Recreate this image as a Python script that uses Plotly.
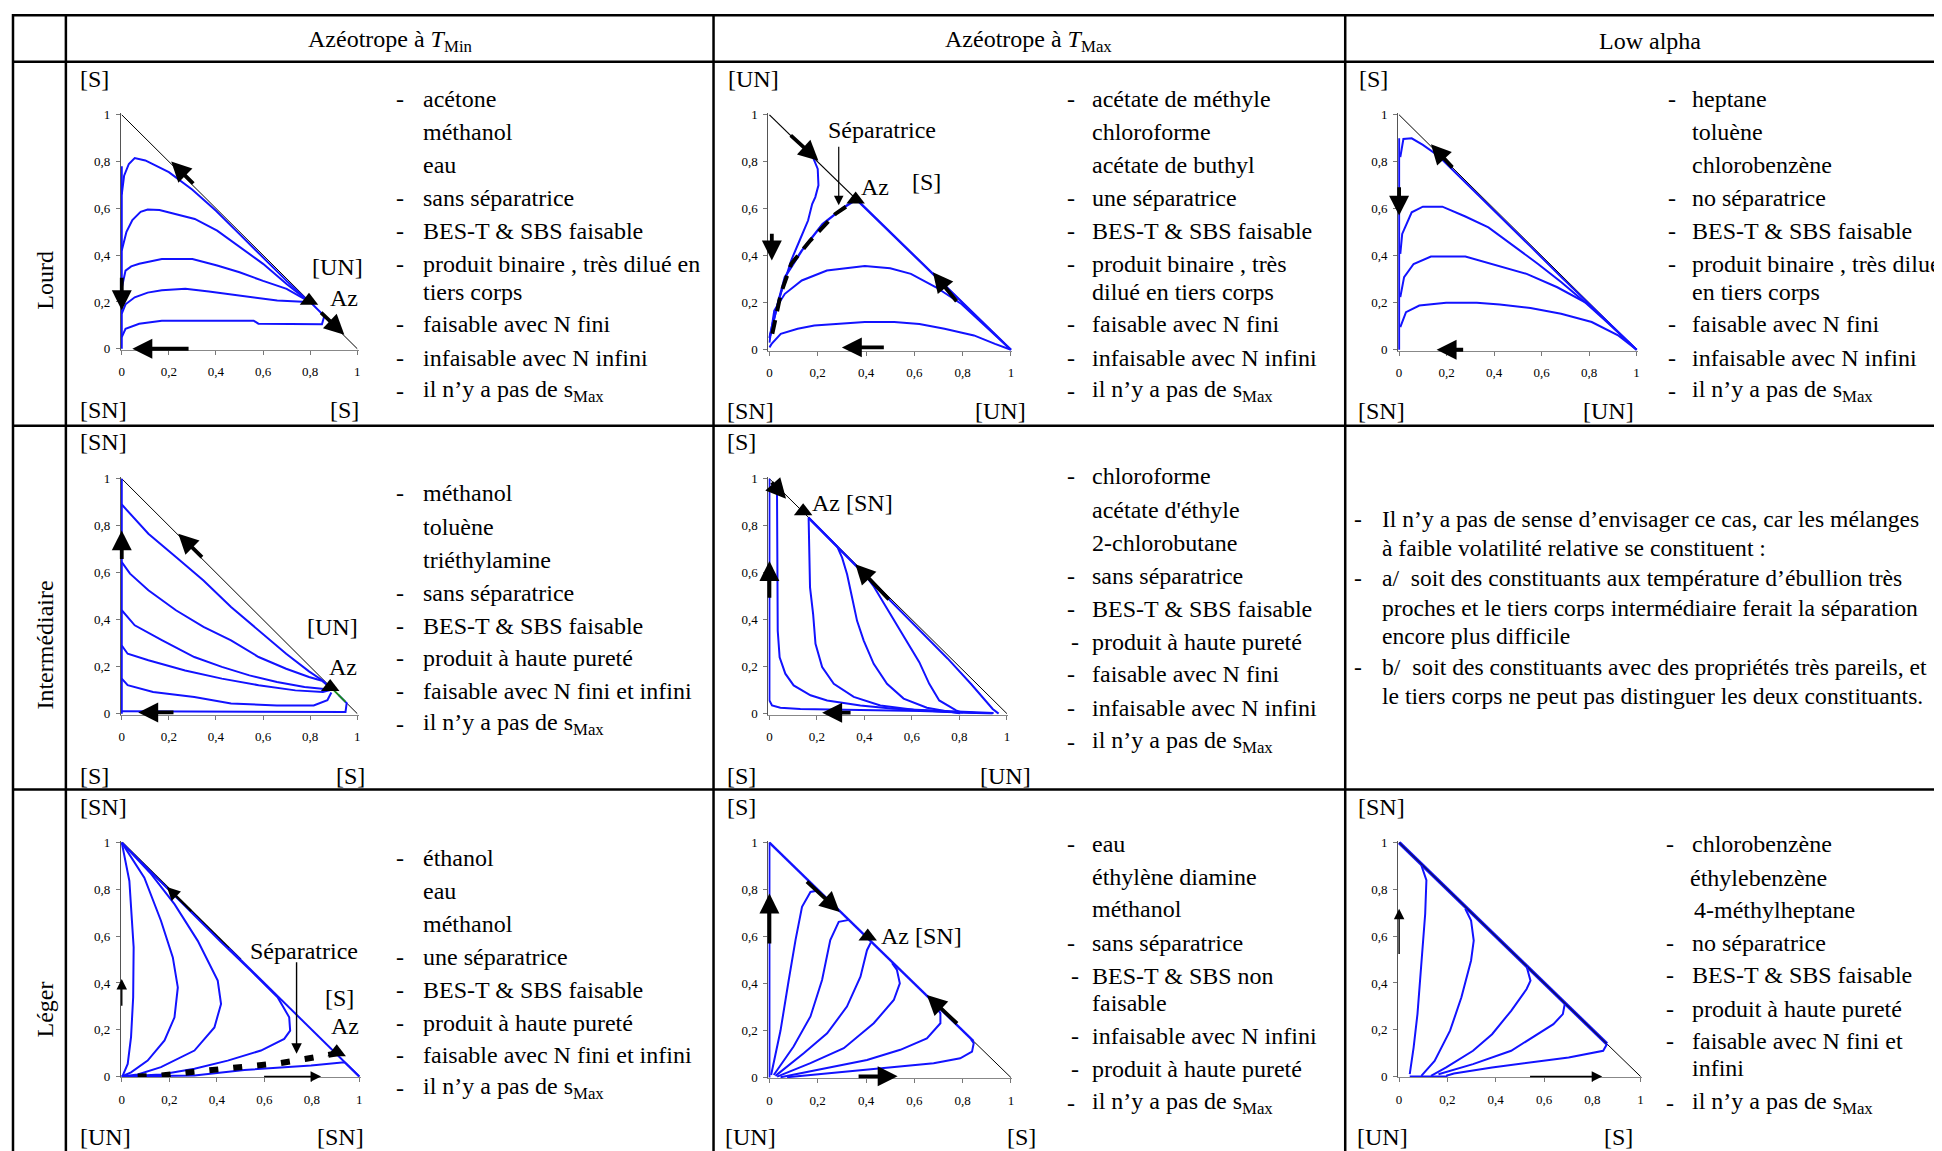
import plotly.graph_objects as go

W, H = 1942, 1151          # browser window
OX = 8                     # default page margin left of the figure
FW, FH = W - 2 * OX, H
VS, VOFF = 0.989, 13.3     # measured vertical placement of the page in the photograph
FONT = "Liberation Serif"
BLUE = "#1212ff"

# ======================= DATA =======================
column_titles = ["Azéotrope à <i>T</i><sub>Min</sub>",
                 "Azéotrope à <i>T</i><sub>Max</sub>",
                 "Low alpha"]
row_titles = ["Lourd", "Intermédiaire", "Léger"]
tick_vals = [0, 0.2, 0.4, 0.6, 0.8, 1.0]
tick_text = ["0", "0,2", "0,4", "0,6", "0,8", "1"]

# ---- Lourd / Azéotrope à T_Min ----
lmin_curve1 = [(0, 0.66), (0.01, 0.74), (0.03, 0.79), (0.055, 0.815), (0.1, 0.805), (0.2, 0.755),
               (0.3, 0.68), (0.4, 0.59), (0.5, 0.49), (0.6, 0.39), (0.7, 0.29), (0.79, 0.205)]
lmin_curve2 = [(0, 0.42), (0.02, 0.5), (0.045, 0.55), (0.08, 0.585), (0.11, 0.595), (0.16, 0.593),
               (0.21, 0.58), (0.31, 0.555), (0.405, 0.505), (0.5, 0.434), (0.6, 0.363), (0.7, 0.277),
               (0.79, 0.205)]
lmin_curve3 = [(0, 0.26), (0.016, 0.334), (0.04, 0.352), (0.074, 0.363), (0.17, 0.384), (0.3, 0.384),
               (0.405, 0.356), (0.5, 0.327), (0.6, 0.29), (0.7, 0.256), (0.79, 0.205)]
lmin_curve4 = [(0, 0.15), (0.016, 0.19), (0.055, 0.22), (0.11, 0.24), (0.17, 0.25), (0.27, 0.256),
               (0.37, 0.245), (0.5, 0.228), (0.66, 0.206), (0.79, 0.2)]
lmin_curve5 = [(0, 0.05), (0.016, 0.085), (0.074, 0.107), (0.17, 0.12), (0.56, 0.12), (0.58, 0.107),
               (0.85, 0.105), (0.86, 0.14), (0.8, 0.2)]
lmin_axis = [(0, 0), (0, 0.78)]
lmin_az = [(0.795, 0.205)]
lmin_arrows = [(0.31, 0.70, 0.21, 0.80), (0.84, 0.16, 0.945, 0.06), (0, 0.31, 0, 0.165), (0.29, 0, 0.045, 0)]

# ---- Lourd / Azéotrope à T_Max ----
lmax_curve1 = [(0.18, 0.82), (0.2, 0.77), (0.203, 0.70), (0.19, 0.65), (0.177, 0.62), (0.16, 0.55),
               (0.125, 0.465), (0.09, 0.38), (0.064, 0.295), (0.038, 0.21), (0.012, 0.096), (0, 0.05)]
lmax_curve2 = [(0, 0.05), (0.02, 0.139), (0.064, 0.309), (0.134, 0.422), (0.22, 0.535), (0.308, 0.606),
               (0.36, 0.64), (1, 0)]
lmax_separatrix = [(0.012, 0.068), (0.047, 0.238), (0.09, 0.365), (0.169, 0.465), (0.273, 0.578),
                   (0.343, 0.627)]
lmax_curve3 = [(0, 0.03), (0.02, 0.167), (0.064, 0.238), (0.134, 0.295), (0.238, 0.337), (0.395, 0.356),
               (0.5, 0.347), (0.586, 0.323), (0.69, 0.266), (0.795, 0.195), (0.934, 0.063), (1, 0)]
lmax_curve4 = [(0, 0.01), (0.009, 0.025), (0.047, 0.068), (0.117, 0.089), (0.186, 0.103), (0.308, 0.113),
               (0.395, 0.118), (0.517, 0.118), (0.621, 0.11), (0.725, 0.089), (0.847, 0.061),
               (0.934, 0.025), (1, 0)]
lmax_az = [(0.357, 0.64)]
lmax_arrows = [(0.082, 0.918, 0.203, 0.805), (0.01, 0.5, 0.01, 0.38), (0.78, 0.2, 0.677, 0.33),
               (0.48, 0.01, 0.3, 0.01)]
lmax_pointers = [(0.287, 0.87, 0.287, 0.615)]

# ---- Lourd / Low alpha ----
lalpha_curve1 = [(0.005, 0.82), (0.018, 0.897), (0.053, 0.90), (0.10, 0.872), (0.166, 0.825),
                 (0.247, 0.745), (0.327, 0.665), (0.424, 0.568), (0.553, 0.44), (0.682, 0.31),
                 (0.795, 0.2), (0.908, 0.088), (1, 0)]
lalpha_curve2 = [(0.005, 0.408), (0.013, 0.493), (0.053, 0.585), (0.10, 0.609), (0.182, 0.609),
                 (0.279, 0.567), (0.376, 0.521), (0.473, 0.45), (0.585, 0.365), (0.682, 0.288),
                 (0.779, 0.205), (0.876, 0.117), (1, 0)]
lalpha_curve3 = [(0.005, 0.224), (0.021, 0.309), (0.061, 0.365), (0.134, 0.397), (0.279, 0.397),
                 (0.392, 0.365), (0.537, 0.323), (0.666, 0.266), (0.795, 0.195), (0.908, 0.09), (1, 0)]
lalpha_curve4 = [(0.005, 0.096), (0.029, 0.16), (0.085, 0.188), (0.198, 0.2), (0.327, 0.2),
                 (0.424, 0.193), (0.553, 0.178), (0.682, 0.153), (0.811, 0.118), (0.924, 0.06), (1, 0)]
lalpha_axis = [(0, 0), (0, 0.9)]
lalpha_arrows = [(0.23, 0.77, 0.134, 0.875), (0, 0.698, 0, 0.571), (0.276, 0, 0.158, 0)]

# ---- Intermédiaire / Azéotrope à T_Min ----
imin_curve1 = [(0, 0.89), (0.035, 0.851), (0.113, 0.766), (0.23, 0.667), (0.347, 0.567), (0.464, 0.454),
               (0.581, 0.355), (0.698, 0.255), (0.795, 0.18), (0.854, 0.14), (0.88, 0.115)]
imin_curve2 = [(0, 0.645), (0.035, 0.596), (0.113, 0.525), (0.23, 0.44), (0.347, 0.369), (0.464, 0.312),
               (0.581, 0.241), (0.698, 0.191), (0.795, 0.156), (0.85, 0.14), (0.88, 0.115)]
imin_curve3 = [(0, 0.44), (0.055, 0.376), (0.172, 0.312), (0.308, 0.241), (0.425, 0.199), (0.542, 0.163),
               (0.659, 0.135), (0.776, 0.113), (0.86, 0.105), (0.88, 0.11)]
imin_curve4 = [(0, 0.29), (0.025, 0.255), (0.113, 0.227), (0.269, 0.184), (0.425, 0.149), (0.581, 0.121),
               (0.737, 0.099), (0.854, 0.092), (0.885, 0.1)]
imin_curve5 = [(0, 0.149), (0.025, 0.121), (0.133, 0.092), (0.308, 0.071), (0.464, 0.043), (0.659, 0.035),
               (0.815, 0.035), (0.873, 0.057), (0.89, 0.09)]
imin_curve6 = [(0, 0.01), (0.3, 0.01), (0.5, 0.008), (0.7, 0.008), (0.95, 0.007), (0.955, 0.045),
               (0.92, 0.08)]
imin_axis = [(0, 0), (0, 1)]
imin_green = [(0.9, 0.1), (0.95, 0.05)]
imin_az = [(0.885, 0.113)]
imin_arrows = [(0.347, 0.66, 0.24, 0.766), (0, 0.652, 0, 0.78), (0.226, 0.005, 0.07, 0.005)]

# ---- Intermédiaire / Azéotrope à T_Max ----
imax_curve1 = [(0, 1), (0, 0.056), (0.011, 0.035), (0.046, 0.025), (0.13, 0.02), (0.38, 0.017),
               (0.635, 0.011), (0.8, 0.006), (0.94, 0.0)]
imax_curve2 = [(0.04, 0.955), (0.032, 0.93), (0.035, 0.353), (0.043, 0.24), (0.067, 0.17), (0.102, 0.12),
               (0.173, 0.078), (0.243, 0.056), (0.383, 0.035), (0.523, 0.021), (0.663, 0.014),
               (0.832, 0.007), (0.944, 0.003)]
imax_curve3 = [(0.165, 0.835), (0.171, 0.537), (0.184, 0.424), (0.194, 0.297), (0.222, 0.198),
               (0.271, 0.127), (0.355, 0.071), (0.467, 0.035), (0.607, 0.017), (0.748, 0.007),
               (0.874, 0.003)]
imax_curve4 = [(0.165, 0.835), (0.285, 0.712), (0.306, 0.664), (0.327, 0.593), (0.348, 0.494),
               (0.369, 0.395), (0.397, 0.311), (0.439, 0.212), (0.495, 0.127), (0.565, 0.064),
               (0.663, 0.025), (0.748, 0.008), (0.804, 0)]
imax_curve5 = [(0.165, 0.833), (0.40, 0.595), (0.44, 0.54), (0.505, 0.431), (0.561, 0.332),
               (0.631, 0.219), (0.673, 0.127), (0.715, 0.056), (0.786, 0.014), (0.814, 0.003)]
imax_curve6 = [(0.165, 0.833), (0.5, 0.492), (0.65, 0.337), (0.75, 0.235), (0.85, 0.125), (0.9, 0.065),
               (0.94, 0.02), (0.965, 0.0)]
imax_az = [(0.142, 0.862)]
imax_arrows = [(0.004, 0.99, 0.07, 0.915), (0.509, 0.48, 0.362, 0.636), (0, 0.487, 0, 0.65),
               (0.348, 0.004, 0.222, 0.004)]

# ---- Léger / Azéotrope à T_Min ----
gmin_curve1 = [(0, 1), (0.032, 0.836), (0.05, 0.552), (0.048, 0.339), (0.039, 0.168), (0.025, 0.054),
               (0.004, 0.004)]
gmin_curve2 = [(0, 1), (0.095, 0.85), (0.165, 0.666), (0.215, 0.509), (0.236, 0.381), (0.222, 0.253),
               (0.18, 0.154), (0.109, 0.068), (0.039, 0.018), (0, 0)]
gmin_curve3 = [(0, 1), (0.12, 0.87), (0.222, 0.737), (0.32, 0.58), (0.404, 0.41), (0.418, 0.31),
               (0.39, 0.21), (0.306, 0.111), (0.165, 0.04), (0.067, 0.009), (0, 0)]
gmin_curve4 = [(0, 1), (0.2, 0.795), (0.418, 0.575), (0.544, 0.452), (0.656, 0.339), (0.705, 0.253),
               (0.709, 0.196), (0.684, 0.161), (0.586, 0.111), (0.446, 0.068), (0.306, 0.033),
               (0.165, 0.009), (0, 0)]
gmin_curve5 = [(0, 0), (0.15, 0.002), (0.306, 0.004), (0.516, 0.028), (0.656, 0.037), (0.797, 0.047),
               (0.937, 0.061), (0.945, 0.055), (1, 0)]
gmin_diag_blue = [(0.45, 0.55), (1, 0)]
gmin_diag_black = [(0, 1), (0.5, 0.5)]
gmin_separatrix = [(0.067, 0), (0.165, 0.004), (0.266, 0.016), (0.369, 0.026), (0.471, 0.033),
                   (0.572, 0.047), (0.67, 0.058), (0.771, 0.075), (0.874, 0.094), (0.91, 0.1)]
gmin_az = [(0.905, 0.104)]
gmin_arrows = [(0.3, 0.7, 0.19, 0.81)]
gmin_thin_arrows = [(0, 0.296, 0, 0.417), (0.593, 0, 0.839, 0), (0.736, 0.495, 0.736, 0.097)]

# ---- Léger / Azéotrope à T_Max ----
gmax_curve1 = [(0.007, 0.011), (0.046, 0.2), (0.08, 0.415), (0.108, 0.585), (0.135, 0.727), (0.17, 0.79),
               (0.195, 0.795)]
gmax_curve2 = [(0.018, 0.011), (0.1, 0.132), (0.17, 0.26), (0.218, 0.415), (0.252, 0.585), (0.287, 0.663),
               (0.325, 0.67)]
gmax_curve3 = [(0.025, 0.007), (0.142, 0.103), (0.239, 0.188), (0.321, 0.302), (0.377, 0.429),
               (0.404, 0.542), (0.42, 0.575)]
gmax_curve4 = [(0.032, 0.004), (0.17, 0.061), (0.308, 0.125), (0.432, 0.231), (0.515, 0.33), (0.54, 0.401),
               (0.528, 0.458), (0.508, 0.487)]
gmax_curve5 = [(0.046, 0.001), (0.239, 0.04), (0.404, 0.075), (0.542, 0.118), (0.652, 0.167),
               (0.708, 0.231), (0.708, 0.273), (0.69, 0.305)]
gmax_curve6 = [(0.073, 0.001), (0.308, 0.025), (0.515, 0.044), (0.68, 0.061), (0.79, 0.082), (0.839, 0.11),
               (0.846, 0.146), (0.835, 0.162)]
gmax_axis = [(0, 0), (0, 1)]
gmax_diag_blue = [(0, 1), (0.845, 0.155)]
gmax_az = [(0.407, 0.6)]
gmax_arrows = [(0.149, 0.84, 0.291, 0.705), (0.783, 0.224, 0.652, 0.351), (0, 0.564, 0, 0.783),
               (0.363, 0.005, 0.531, 0.005)]

# ---- Léger / Low alpha ----
galpha_curve1 = [(0.092, 0.903), (0.113, 0.839), (0.108, 0.696), (0.092, 0.481), (0.076, 0.267),
                 (0.06, 0.124), (0.044, 0.01)]
galpha_curve2 = [(0.274, 0.717), (0.298, 0.667), (0.309, 0.581), (0.298, 0.496), (0.258, 0.339),
                 (0.211, 0.196), (0.147, 0.067), (0.092, 0.003)]
galpha_curve3 = [(0.528, 0.47), (0.544, 0.41), (0.528, 0.374), (0.464, 0.281), (0.385, 0.181),
                 (0.306, 0.11), (0.195, 0.039), (0.132, 0.003)]
galpha_curve4 = [(0.686, 0.31), (0.678, 0.267), (0.639, 0.224), (0.575, 0.181), (0.464, 0.11),
                 (0.306, 0.053), (0.163, 0.01)]
galpha_curve5 = [(0.861, 0.139), (0.845, 0.11), (0.702, 0.081), (0.544, 0.06), (0.385, 0.039),
                 (0.227, 0.013), (0.195, 0.003)]
galpha_diag = [(0, 1), (0.86, 0.14)]
galpha_bottom = [(0.044, 0.0), (0.2, 0.0)]
galpha_thin_arrows = [(0, 0.517, 0, 0.717), (0.536, 0, 0.841, 0)]

# ---- Text of the cells ----
lmin_text = [("-", "acétone"), ("", "méthanol"), ("", "eau"), ("-", "sans séparatrice"),
             ("-", "BES-T &amp; SBS faisable"), ("-", "produit binaire , très dilué en"), ("", "tiers corps"),
             ("-", "faisable avec N fini"), ("-", "infaisable avec N infini"),
             ("-", "il n’y a pas de s<sub>Max</sub>")]
lmax_text = [("-", "acétate de méthyle"), ("", "chloroforme"), ("", "acétate de buthyl"),
             ("-", "une séparatrice"), ("-", "BES-T &amp; SBS faisable"), ("-", "produit binaire , très"),
             ("", "dilué en tiers corps"), ("-", "faisable avec N fini"), ("-", "infaisable avec N infini"),
             ("-", "il n’y a pas de s<sub>Max</sub>")]
lalpha_text = [("-", "heptane"), ("", "toluène"), ("", "chlorobenzène"), ("-", "no séparatrice"),
               ("-", "BES-T &amp; SBS faisable"), ("-", "produit binaire , très dilué"), ("", "en tiers corps"),
               ("-", "faisable avec N fini"), ("-", "infaisable avec N infini"),
               ("-", "il n’y a pas de s<sub>Max</sub>")]
imin_text = [("-", "méthanol"), ("", "toluène"), ("", "triéthylamine"), ("-", "sans séparatrice"),
             ("-", "BES-T &amp; SBS faisable"), ("-", "produit à haute pureté"),
             ("-", "faisable avec N fini et infini"), ("-", "il n’y a pas de s<sub>Max</sub>")]
imax_text = [("-", "chloroforme"), ("", "acétate d'éthyle"), ("", "2-chlorobutane"), ("-", "sans séparatrice"),
             ("-", "BES-T &amp; SBS faisable"), ("-", "produit à haute pureté"), ("-", "faisable avec N fini"),
             ("-", "infaisable avec N infini"), ("-", "il n’y a pas de s<sub>Max</sub>")]
ialpha_text = [("-", "Il n’y a pas de sense d’envisager ce cas, car les mélanges"),
               ("", "à faible volatilité relative se constituent :"),
               ("-", "a/\u00a0\u00a0soit des constituants aux température d’ébullion très"),
               ("", "proches et le tiers corps intermédiaire ferait la séparation"),
               ("", "encore plus difficile"),
               ("-", "b/\u00a0\u00a0soit des constituants avec des propriétés très pareils, et"),
               ("", "le tiers corps ne peut pas distinguer les deux constituants.")]
gmin_text = [("-", "éthanol"), ("", "eau"), ("", "méthanol"), ("-", "une séparatrice"),
             ("-", "BES-T &amp; SBS faisable"), ("-", "produit à haute pureté"),
             ("-", "faisable avec N fini et infini"), ("-", "il n’y a pas de s<sub>Max</sub>")]
gmax_text = [("-", "eau"), ("", "éthylène diamine"), ("", "méthanol"), ("-", "sans séparatrice"),
             ("-", "BES-T &amp; SBS non"), ("", "faisable"), ("-", "infaisable avec N infini"),
             ("-", "produit à haute pureté"), ("-", "il n’y a pas de s<sub>Max</sub>")]
galpha_text = [("-", "chlorobenzène"), ("", "éthylebenzène"), ("", "4-méthylheptane"), ("-", "no séparatrice"),
               ("-", "BES-T &amp; SBS faisable"), ("-", "produit à haute pureté"), ("-", "faisable avec N fini et"),
               ("", "infini"), ("-", "il n’y a pas de s<sub>Max</sub>")]

# ======================= LAYOUT (target pixel geometry) =======================
BOXES = [(120, 356, 348, 114), (769, 1011, 349, 114), (1400, 1638, 349, 114),
         (120, 356, 713, 478), (769, 1007, 713, 478),
         (120, 358, 1076, 842), (769, 1011, 1077, 842), (1400, 1642, 1076, 842)]
RLO, RHI = -0.004, 1.006


def px(x):
    return (x - OX) / FW


def py(y):
    return 1 - (y / VS - VOFF) / FH


fig = go.Figure()


def xn(i):
    return "x" if i == 1 else f"x{i}"


def yn(i):
    return "y" if i == 1 else f"y{i}"


def add_line(i, pts, color=BLUE, width=2.0, dash="solid"):
    fig.add_trace(go.Scatter(x=[p[0] for p in pts], y=[p[1] for p in pts], mode="lines",
                             line=dict(color=color, width=width, dash=dash),
                             xaxis=xn(i), yaxis=yn(i), hoverinfo="skip", showlegend=False))


def add_az(i, pts):
    fig.add_trace(go.Scatter(x=[p[0] for p in pts], y=[p[1] for p in pts], mode="markers",
                             marker=dict(symbol="triangle-up", size=16, color="black"),
                             cliponaxis=False, xaxis=xn(i), yaxis=yn(i), hoverinfo="skip",
                             showlegend=False))


annotations = []


def add_arrows(i, arrows, width=3.8, size=1.05):
    for tx, ty, hx, hy in arrows:
        annotations.append(dict(x=hx, y=hy, ax=tx, ay=ty, xref=xn(i), yref=yn(i), axref=xn(i), ayref=yn(i),
                                text="", showarrow=True, arrowhead=2, arrowsize=size, arrowwidth=width,
                                arrowcolor="black", standoff=0, startstandoff=0))


def label(s, x, y, size=24, xanchor="center", angle=0):
    annotations.append(dict(text=s, x=px(x), y=py(y), xref="paper", yref="paper", xanchor=xanchor,
                            yanchor="middle", showarrow=False, textangle=angle,
                            font=dict(family=FONT, size=size, color="black")))


DIAG = [(0, 1), (1, 0)]

# panel 1 : Lourd / T_Min
add_line(1, DIAG, "black", 1)
add_line(1, lmin_axis)
for c in (lmin_curve1, lmin_curve2, lmin_curve3, lmin_curve4, lmin_curve5):
    add_line(1, c)
add_az(1, lmin_az)
add_arrows(1, lmin_arrows)

# panel 2 : Lourd / T_Max
add_line(2, DIAG, "black", 1.2)
for c in (lmax_curve1, lmax_curve3, lmax_curve4):
    add_line(2, c)
add_line(2, lmax_curve2, BLUE, 2.4)
add_line(2, lmax_separatrix, "black", 4, "14px,9px")
add_az(2, lmax_az)
add_arrows(2, lmax_arrows)
add_arrows(2, lmax_pointers, width=1.2, size=1.6)

# panel 3 : Lourd / Low alpha
add_line(3, DIAG, "black", 1)
add_line(3, lalpha_axis)
for c in (lalpha_curve1, lalpha_curve2, lalpha_curve3, lalpha_curve4):
    add_line(3, c)
add_arrows(3, lalpha_arrows)

# panel 4 : Intermédiaire / T_Min
add_line(4, DIAG, "black", 1)
add_line(4, imin_axis)
for c in (imin_curve1, imin_curve2, imin_curve3, imin_curve4, imin_curve5, imin_curve6):
    add_line(4, c)
add_line(4, imin_green, "#1a8a1a", 2)
add_az(4, imin_az)
add_arrows(4, imin_arrows)

# panel 5 : Intermédiaire / T_Max
add_line(5, DIAG, "black", 1)
for c in (imax_curve1, imax_curve2, imax_curve3, imax_curve4, imax_curve5, imax_curve6):
    add_line(5, c)
add_az(5, imax_az)
add_arrows(5, imax_arrows)

# panel 6 : Léger / T_Min
add_line(6, DIAG, "black", 1)
add_line(6, gmin_diag_black, "black", 2.4)
add_line(6, gmin_diag_blue, BLUE, 2)
for c in (gmin_curve1, gmin_curve2, gmin_curve3, gmin_curve4, gmin_curve5):
    add_line(6, c)
add_line(6, gmin_separatrix, "black", 6, "9px,15px")
add_az(6, gmin_az)
add_arrows(6, gmin_arrows, width=2.2, size=1.2)
add_arrows(6, gmin_thin_arrows, width=1.4, size=1.5)

# panel 7 : Léger / T_Max
add_line(7, DIAG, "black", 1)
add_line(7, gmax_axis)
add_line(7, gmax_diag_blue, BLUE, 2.4)
for c in (gmax_curve1, gmax_curve2, gmax_curve3, gmax_curve4, gmax_curve5, gmax_curve6):
    add_line(7, c)
add_az(7, gmax_az)
add_arrows(7, gmax_arrows)

# panel 8 : Léger / Low alpha
add_line(8, DIAG, "black", 1)
add_line(8, galpha_diag, BLUE, 3.6)
add_line(8, galpha_diag, "#101060", 1.4)
add_line(8, galpha_bottom)
for c in (galpha_curve1, galpha_curve2, galpha_curve3, galpha_curve4, galpha_curve5):
    add_line(8, c)
add_arrows(8, galpha_thin_arrows, width=1.4, size=1.5)

# axes
axis_font = dict(family=FONT, size=13, color="black")
for i, (X0, X1, Y0, Y1) in enumerate(BOXES, start=1):
    wpx, hpx = X1 - X0, Y0 - Y1
    xd = [px(X0 + RLO * wpx), px(X0 + RHI * wpx)]
    yd = [py(Y0 - RLO * hpx), py(Y0 - RHI * hpx)]
    common = dict(range=[RLO, RHI], tickvals=tick_vals, ticktext=tick_text, ticks="outside", ticklen=4,
                  tickwidth=1, tickcolor="#777777", showline=True, linewidth=1, showgrid=False,
                  zeroline=False, tickfont=axis_font, fixedrange=True)
    fig.layout[f"xaxis{'' if i == 1 else i}"] = dict(domain=xd, anchor=yn(i), linecolor="#888888",
                                                      ticklabelstandoff=6, **common)
    fig.layout[f"yaxis{'' if i == 1 else i}"] = dict(domain=yd, anchor=xn(i), linecolor="#555555",
                                                      ticklabelstandoff=3, **common)

# table grid
shapes = []
HL = [11, 61, 425, 789]
VL = [11, 64, 713, 1346]
for y in HL:
    yy = min(py(y), 0.999)
    shapes.append(dict(type="line", xref="paper", yref="paper", x0=px(VL[0]), x1=1.02, y0=yy, y1=yy,
                       line=dict(color="black", width=2.5)))
for x in VL:
    shapes.append(dict(type="line", xref="paper", yref="paper", x0=px(x), x1=px(x), y0=1.0,
                       y1=-0.02, line=dict(color="black", width=2.5)))

# headers
for t, cx in zip(column_titles, (389, 1029, 1651)):
    label(t, cx, 40)
for t, cy in zip(row_titles, (279, 644, 1009)):
    label(t, 43, cy, angle=-90)

# corner labels
for s, x, y in [("[S]", 93, 78), ("[SN]", 102, 409), ("[S]", 343, 409), ("[UN]", 336, 266), ("Az", 343, 297),
                ("[UN]", 753, 78), ("[SN]", 750, 410), ("[UN]", 1001, 410), ("Séparatrice", 882, 129),
                ("Az", 875, 186), ("[S]", 926, 181),
                ("[S]", 1374, 78), ("[SN]", 1382, 410), ("[UN]", 1610, 410),
                ("[SN]", 102, 441), ("[UN]", 331, 626), ("Az", 342, 666), ("[S]", 93, 775), ("[S]", 349, 775),
                ("[S]", 741, 441), ("Az [SN]", 852, 502), ("[S]", 741, 775), ("[UN]", 1006, 775),
                ("[SN]", 102, 806), ("Séparatrice", 303, 950), ("[S]", 338, 997), ("Az", 344, 1025),
                ("[UN]", 104, 1136), ("[SN]", 339, 1136),
                ("[S]", 741, 806), ("Az [SN]", 921, 935), ("[UN]", 750, 1136), ("[S]", 1022, 1136),
                ("[SN]", 1382, 806), ("[UN]", 1383, 1136), ("[S]", 1620, 1136)]:
    label(s, x, y)

# text blocks: (items, dash_x, text_x, y positions, dash offsets, text offsets, font size)
ROW1_Y = [98, 131, 164, 197, 230, 263, 291, 323, 357, 390]
blocks = [
    (lmin_text, 399, 420, ROW1_Y, {}, {}, 24),
    (lmax_text, 1071, 1090, ROW1_Y, {}, {}, 24),
    (lalpha_text, 1673, 1691, ROW1_Y, {}, {}, 24),
    (imin_text, 399, 420, [492, 526, 559, 592, 625, 657, 690, 723], {}, {}, 24),
    (imax_text, 1071, 1090, [475, 509, 542, 575, 608, 641, 673, 707, 741], {5: 4}, {}, 24),
    (ialpha_text, 1359, 1381, [518, 547, 577, 607, 635, 666, 695], {}, {}, 23.6),
    (gmin_text, 399, 420, [857, 890, 923, 956, 989, 1022, 1054, 1087], {}, {}, 24),
    (gmax_text, 1071, 1090, [843, 876, 908, 942, 975, 1002, 1035, 1068, 1102], {4: 4, 6: 4, 7: 4}, {}, 24),
    (galpha_text, 1671, 1691, [843, 877, 909, 942, 974, 1008, 1040, 1067, 1102], {}, {1: -2, 2: 3}, 24),
]
for items, dx, tx, ys, doff, toff, fs in blocks:
    for k, ((d, s), y) in enumerate(zip(items, ys)):
        if d:
            label(d, dx + doff.get(k, 0), y, size=fs, xanchor="center")
        label(s, tx + toff.get(k, 0), y, size=fs, xanchor="left")

fig.update_layout(width=FW, height=FH, margin=dict(l=0, r=0, t=0, b=0), paper_bgcolor="white",
                  plot_bgcolor="white", showlegend=False, annotations=annotations, shapes=shapes)
fig.write_html("out.html")
